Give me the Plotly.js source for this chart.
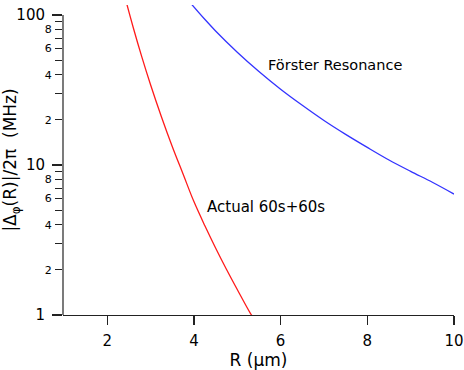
<!DOCTYPE html>
<html>
<head>
<meta charset="utf-8">
<script src="https://cdn.plot.ly/plotly-3.0.1.min.js"></script>
<style>
  body { margin: 0; background: #fff; }
  #myDiv { width: 464px; height: 370px; }
</style>
</head>
<body>
<div id="myDiv"></div>
<script>
var rActual = [2.45, 2.6, 2.8, 3.0, 3.25, 3.5, 3.75, 4.0, 4.25, 4.5, 4.75, 5.0, 5.3, 5.35];
var vActual = [119, 82.6, 52.4, 34.3, 21.0, 13.3, 8.7, 5.7, 3.95, 2.8, 2.02, 1.48, 1.03, 0.98];

var rForster = [3.95, 4.25, 4.5, 5.0, 5.5, 6.0, 6.5, 7.0, 7.5, 8.0, 8.5, 9.0, 9.5, 10.0];
var vForster = [117.6, 93.6, 78.3, 56.5, 42.0, 32.0, 25.0, 19.8, 16.0, 13.1, 10.8, 9.07, 7.67, 6.4];

var xTicks = [2, 4, 6, 8, 10];
var yMajor = [1, 10, 100];
var yMajorText = ['1', '10', '100'];
var yLabeled = [2, 4, 6, 8, 20, 40, 60, 80];
var yLabeledText = ['2', '4', '6', '8', '2', '4', '6', '8'];
var yUnlabeled = [3, 5, 7, 9, 30, 50, 70, 90];

var fnt = 'DejaVu Sans, Verdana, sans-serif';

var trace1 = {
  x: rActual,
  y: vActual,
  type: 'scatter',
  mode: 'lines',
  line: {color: '#ff1a1a', width: 1.3, shape: 'spline'},
  hoverinfo: 'skip'
};

var trace2 = {
  x: rForster,
  y: vForster,
  type: 'scatter',
  mode: 'lines',
  line: {color: '#3333ff', width: 1.3, shape: 'spline'},
  hoverinfo: 'skip'
};

// same curve on the overlay axis so its small labels get drawn
var trace3 = {
  x: rForster,
  y: vForster,
  yaxis: 'y2',
  type: 'scatter',
  mode: 'lines',
  line: {color: 'rgba(0,0,0,0)', width: 0},
  hoverinfo: 'skip'
};

var yTop = Math.log10(100) + 10 / 150;

var layout = {
  width: 464,
  height: 370,
  margin: {l: 63, r: 10, t: 5, b: 55},
  paper_bgcolor: '#fff',
  plot_bgcolor: '#fff',
  showlegend: false,
  font: {family: fnt, color: '#000'},
  xaxis: {
    range: [0.98, 10],
    tickvals: xTicks,
    ticks: 'outside',
    ticklen: 9,
    tickwidth: 1.2,
    tickcolor: '#222',
    ticklabelstandoff: 3,
    showline: true,
    linecolor: '#222',
    linewidth: 1.2,
    showgrid: false,
    zeroline: false,
    tickfont: {size: 15, family: fnt, color: '#000'},
    title: {text: 'R (\u00b5m)', font: {size: 17, family: fnt, color: '#000'}, standoff: 1}
  },
  yaxis: {
    type: 'log',
    range: [0, yTop],
    tickvals: yMajor,
    ticktext: yMajorText,
    ticks: 'outside',
    ticklen: 10,
    tickwidth: 1.2,
    tickcolor: '#222',
    ticklabelstandoff: 4,
    showline: false,
    showgrid: false,
    zeroline: false,
    tickfont: {size: 15, family: fnt, color: '#000'},
    title: {text: '|\u0394<sub>\u03c6</sub>(R)|/2\u03c0  (MHz)', font: {size: 17, family: fnt, color: '#000'}, standoff: 6}
  },
  yaxis2: {
    type: 'log',
    overlaying: 'y',
    side: 'left',
    range: [0, yTop],
    tickvals: yLabeled,
    ticktext: yLabeledText,
    ticks: 'outside',
    ticklen: 7,
    tickwidth: 1.2,
    tickcolor: '#222',
    ticklabelstandoff: 1,
    minor: {tickvals: yUnlabeled, ticks: 'outside', ticklen: 7, tickwidth: 1.2, tickcolor: '#222', showgrid: false},
    showline: false,
    showgrid: false,
    zeroline: false,
    tickfont: {size: 11, family: fnt, color: '#000'}
  },
  shapes: [{
    type: 'line',
    xref: 'paper', yref: 'y',
    x0: 0, x1: 0, y0: 1, y1: 100,
    line: {color: '#222', width: 1.2}
  }],
  annotations: [
    {
      x: 5.665, y: Math.log10(46.4),
      xref: 'x', yref: 'y',
      xanchor: 'left', yanchor: 'middle',
      text: 'F\u00f6rster Resonance',
      showarrow: false,
      font: {size: 14.5, family: fnt, color: '#000'}
    },
    {
      x: 4.257, y: Math.log10(5.25),
      xref: 'x', yref: 'y',
      xanchor: 'left', yanchor: 'middle',
      text: 'Actual 60s+60s',
      showarrow: false,
      font: {size: 15, family: fnt, color: '#000'}
    }
  ]
};

var data = [trace1, trace2, trace3];

Plotly.newPlot('myDiv', data, layout, {staticPlot: true, displayModeBar: false});
</script>
</body>
</html>
